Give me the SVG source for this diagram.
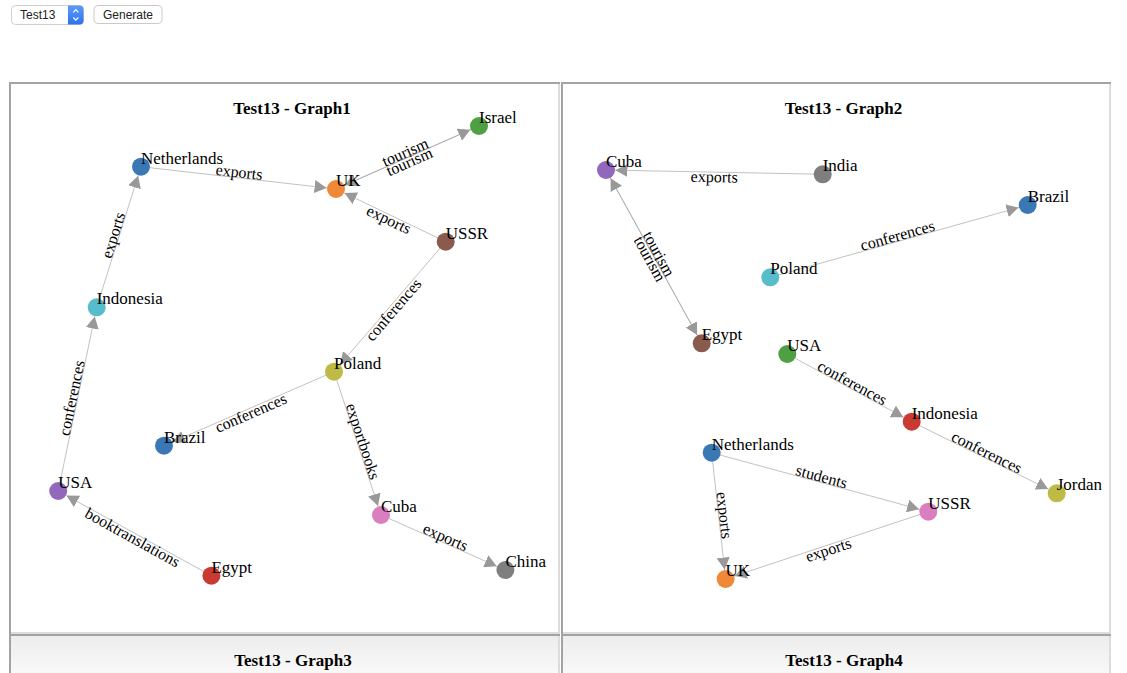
<svg xmlns="http://www.w3.org/2000/svg" width="1127" height="673" viewBox="0 0 1127 673">
<style>
.nl{font-family:"Liberation Serif","Times New Roman",serif;font-size:17px;fill:#000}
.el{font-family:"Liberation Serif","Times New Roman",serif;font-size:16px;fill:#000;text-anchor:middle}
.ti{font-family:"Liberation Serif","Times New Roman",serif;font-size:17px;font-weight:bold;fill:#000;text-anchor:middle}
.ui{font-family:"Liberation Sans",Arial,sans-serif;font-size:12px;fill:#222}
.lk{stroke:#999;stroke-opacity:.6;stroke-width:1;marker-end:url(#arr)}
.dk{fill:#a3a3a3}
.lt{fill:#dcdcdc}
.c-blue{fill:#3a78b5}.c-orange{fill:#f0883a}.c-green{fill:#4fa043}.c-brown{fill:#8a5a4e}
.c-cyan{fill:#58bdcb}.c-olive{fill:#bdbb45}.c-purple{fill:#9168bb}.c-red{fill:#c83a32}
.c-pink{fill:#d97fc0}.c-gray{fill:#7f7f7f}
</style>
<defs>
<marker id="arr" viewBox="0 -6.5 12 13" refX="21.5" refY="0" markerWidth="12" markerHeight="13" markerUnits="userSpaceOnUse" orient="auto">
<path d="M0,-6.5L12,0L0,6.5z" fill="#999"/>
</marker>
<linearGradient id="pg" x1="0" y1="0" x2="0" y2="1">
<stop offset="0" stop-color="#ececec"/><stop offset="1" stop-color="#ffffff"/>
</linearGradient>
<linearGradient id="bl" x1="0" y1="0" x2="0" y2="1">
<stop offset="0" stop-color="#5a9bf8"/><stop offset="1" stop-color="#2f72ee"/>
</linearGradient>
</defs>
<rect width="1127" height="673" fill="#fff"/>

<!-- controls -->
<g id="select">
<rect x="11.5" y="5.5" width="72" height="19" rx="4" fill="#fff" stroke="#cfcfcf"/>
<path d="M68,5.5h11.5a4,4 0 0 1 4,4v11a4,4 0 0 1 -4,4h-11.5z" fill="url(#bl)"/>
<path d="M73.3,12.3l2.5,-2.6l2.5,2.6M73.3,17.5l2.5,2.6l2.5,-2.6" fill="none" stroke="#fff" stroke-width="1.2"/>
<text class="ui" x="20" y="18.5">Test13</text>
</g>
<g id="generate">
<rect x="94" y="5.5" width="68" height="18" rx="4" fill="#fff" stroke="#c9c9c9"/>
<text class="ui" x="128" y="18.5" text-anchor="middle">Generate</text>
</g>

<!-- panels -->
<g id="panel1">
<rect x="9" y="82" width="551" height="552" fill="#fff"/>
<rect class="dk" x="9" y="82" width="551" height="2"/>
<rect class="dk" x="9" y="82" width="2" height="552"/>
<rect class="lt" x="558" y="84" width="2" height="550"/>
<rect class="lt" x="11" y="632" width="549" height="2"/>
<text class="ti" x="292" y="114">Test13 - Graph1</text>
</g>
<g id="panel2">
<rect x="561" y="82" width="550" height="552" fill="#fff"/>
<rect class="dk" x="561" y="82" width="550" height="2"/>
<rect class="dk" x="561" y="82" width="2" height="552"/>
<rect class="lt" x="1109" y="84" width="2" height="550"/>
<rect class="lt" x="563" y="632" width="548" height="2"/>
<text class="ti" x="843.5" y="114">Test13 - Graph2</text>
</g>
<g id="panel3">
<rect x="9" y="634" width="551" height="60" fill="url(#pg)"/>
<rect class="dk" x="9" y="634" width="551" height="2"/>
<rect class="dk" x="9" y="634" width="2" height="39"/>
<rect class="lt" x="558" y="636" width="2" height="37"/>
<text class="ti" x="293" y="666">Test13 - Graph3</text>
</g>
<g id="panel4">
<rect x="561" y="634" width="550" height="60" fill="url(#pg)"/>
<rect class="dk" x="561" y="634" width="550" height="2"/>
<rect class="dk" x="561" y="634" width="2" height="39"/>
<rect class="lt" x="1109" y="636" width="2" height="37"/>
<text class="ti" x="844" y="666">Test13 - Graph4</text>
</g>

<!-- connectors -->
<g id="connectors">
<line class="lk" x1="96.7" y1="307.3" x2="141" y2="166.7"/>
<line class="lk" x1="141" y1="166.7" x2="336" y2="189"/>
<line class="lk" x1="336" y1="189" x2="479" y2="126"/>
<line class="lk" x1="479" y1="126" x2="336" y2="189"/>
<line class="lk" x1="445.7" y1="241.7" x2="336" y2="189"/>
<line class="lk" x1="445.7" y1="241.7" x2="334" y2="371.7"/>
<line class="lk" x1="334" y1="371.7" x2="164" y2="445.7"/>
<line class="lk" x1="58.2" y1="491" x2="96.7" y2="307.3"/>
<line class="lk" x1="211.4" y1="575.7" x2="58.2" y2="491"/>
<line class="lk" x1="334" y1="371.7" x2="381" y2="515"/>
<line class="lk" x1="381" y1="515" x2="505.4" y2="570"/>

<line class="lk" x1="822.7" y1="174.3" x2="606" y2="170"/>
<line class="lk" x1="606" y1="170" x2="701.7" y2="343.3"/>
<line class="lk" x1="701.7" y1="343.3" x2="606" y2="170"/>
<line class="lk" x1="770.3" y1="277.3" x2="1027.7" y2="205"/>
<line class="lk" x1="787.3" y1="354" x2="911.7" y2="421.7"/>
<line class="lk" x1="911.7" y1="421.7" x2="1056.7" y2="493.3"/>
<line class="lk" x1="711.7" y1="452.7" x2="928.3" y2="511.7"/>
<line class="lk" x1="711.7" y1="452.7" x2="725.6" y2="579"/>
<line class="lk" x1="928.3" y1="511.7" x2="725.6" y2="579"/>

<text class="el" transform="translate(118.85,237) rotate(-72.51)" y="-0.5">exports</text>
<text class="el" transform="translate(238.5,177.85) rotate(6.52)" y="-0.5">exports</text>
<text class="el" transform="translate(407.5,157.5) rotate(-23.78)" y="-0.5">tourism</text>
<text class="el" transform="translate(407.5,157.5) rotate(-23.78)" y="10">tourism</text>
<text class="el" transform="translate(390.85,215.35) rotate(25.66)" y="10">exports</text>
<text class="el" transform="translate(389.85,306.7) rotate(-49.33)" y="10">conferences</text>
<text class="el" transform="translate(249,408.7) rotate(-23.52)" y="10">conferences</text>
<text class="el" transform="translate(77.45,399.15) rotate(-78.16)" y="-0.5">conferences</text>
<text class="el" transform="translate(134.8,533.35) rotate(28.94)" y="10">booktranslations</text>
<text class="el" transform="translate(357.5,443.35) rotate(71.84)" y="-0.5">exportbooks</text>
<text class="el" transform="translate(443.2,542.5) rotate(23.85)" y="-0.5">exports</text>

<text class="el" transform="translate(714.35,172.15) rotate(1.14)" y="10">exports</text>
<text class="el" transform="translate(653.85,256.65) rotate(61.1)" y="-0.5">tourism</text>
<text class="el" transform="translate(653.85,256.65) rotate(61.1)" y="10">tourism</text>
<text class="el" transform="translate(899,241.15) rotate(-15.69)" y="-0.5">conferences</text>
<text class="el" transform="translate(849.5,387.85) rotate(28.55)" y="-0.5">conferences</text>
<text class="el" transform="translate(984.2,457.5) rotate(26.28)" y="-0.5">conferences</text>
<text class="el" transform="translate(820,482.2) rotate(15.24)" y="-0.5">students</text>
<text class="el" transform="translate(718.65,515.85) rotate(83.72)" y="-0.5">exports</text>
<text class="el" transform="translate(826.95,545.35) rotate(-18.37)" y="10">exports</text>
</g>

<!-- graph1 nodes -->
<g id="g1-netherlands"><circle class="c-blue" cx="141" cy="166.7" r="9"/><text class="nl" x="141" y="163.7">Netherlands</text></g>
<g id="g1-uk"><circle class="c-orange" cx="336" cy="189" r="9"/><text class="nl" x="336" y="186">UK</text></g>
<g id="g1-israel"><circle class="c-green" cx="479" cy="126" r="9"/><text class="nl" x="479" y="123">Israel</text></g>
<g id="g1-ussr"><circle class="c-brown" cx="445.7" cy="241.7" r="9"/><text class="nl" x="445.7" y="238.7">USSR</text></g>
<g id="g1-indonesia"><circle class="c-cyan" cx="96.7" cy="307.3" r="9"/><text class="nl" x="96.7" y="304.3">Indonesia</text></g>
<g id="g1-poland"><circle class="c-olive" cx="334" cy="371.7" r="9"/><text class="nl" x="334" y="368.7">Poland</text></g>
<g id="g1-brazil"><circle class="c-blue" cx="164" cy="445.7" r="9"/><text class="nl" x="164" y="442.7">Brazil</text></g>
<g id="g1-usa"><circle class="c-purple" cx="58.2" cy="491" r="9"/><text class="nl" x="58.2" y="488">USA</text></g>
<g id="g1-egypt"><circle class="c-red" cx="211.4" cy="575.7" r="9"/><text class="nl" x="211.4" y="572.7">Egypt</text></g>
<g id="g1-cuba"><circle class="c-pink" cx="381" cy="515" r="9"/><text class="nl" x="381" y="512">Cuba</text></g>
<g id="g1-china"><circle class="c-gray" cx="505.4" cy="570" r="9"/><text class="nl" x="505.4" y="567">China</text></g>

<!-- graph2 nodes -->
<g id="g2-cuba"><circle class="c-purple" cx="606" cy="170" r="9"/><text class="nl" x="606" y="167">Cuba</text></g>
<g id="g2-india"><circle class="c-gray" cx="822.7" cy="174.3" r="9"/><text class="nl" x="822.7" y="171.3">India</text></g>
<g id="g2-poland"><circle class="c-cyan" cx="770.3" cy="277.3" r="9"/><text class="nl" x="770.3" y="274.3">Poland</text></g>
<g id="g2-brazil"><circle class="c-blue" cx="1027.7" cy="205" r="9"/><text class="nl" x="1027.7" y="202">Brazil</text></g>
<g id="g2-egypt"><circle class="c-brown" cx="701.7" cy="343.3" r="9"/><text class="nl" x="701.7" y="340.3">Egypt</text></g>
<g id="g2-usa"><circle class="c-green" cx="787.3" cy="354" r="9"/><text class="nl" x="787.3" y="351">USA</text></g>
<g id="g2-netherlands"><circle class="c-blue" cx="711.7" cy="452.7" r="9"/><text class="nl" x="711.7" y="449.7">Netherlands</text></g>
<g id="g2-indonesia"><circle class="c-red" cx="911.7" cy="421.7" r="9"/><text class="nl" x="911.7" y="418.7">Indonesia</text></g>
<g id="g2-jordan"><circle class="c-olive" cx="1056.7" cy="493.3" r="9"/><text class="nl" x="1056.7" y="490.3">Jordan</text></g>
<g id="g2-ussr"><circle class="c-pink" cx="928.3" cy="511.7" r="9"/><text class="nl" x="928.3" y="508.7">USSR</text></g>
<g id="g2-uk"><circle class="c-orange" cx="725.6" cy="579" r="9"/><text class="nl" x="725.6" y="576">UK</text></g>
</svg>
